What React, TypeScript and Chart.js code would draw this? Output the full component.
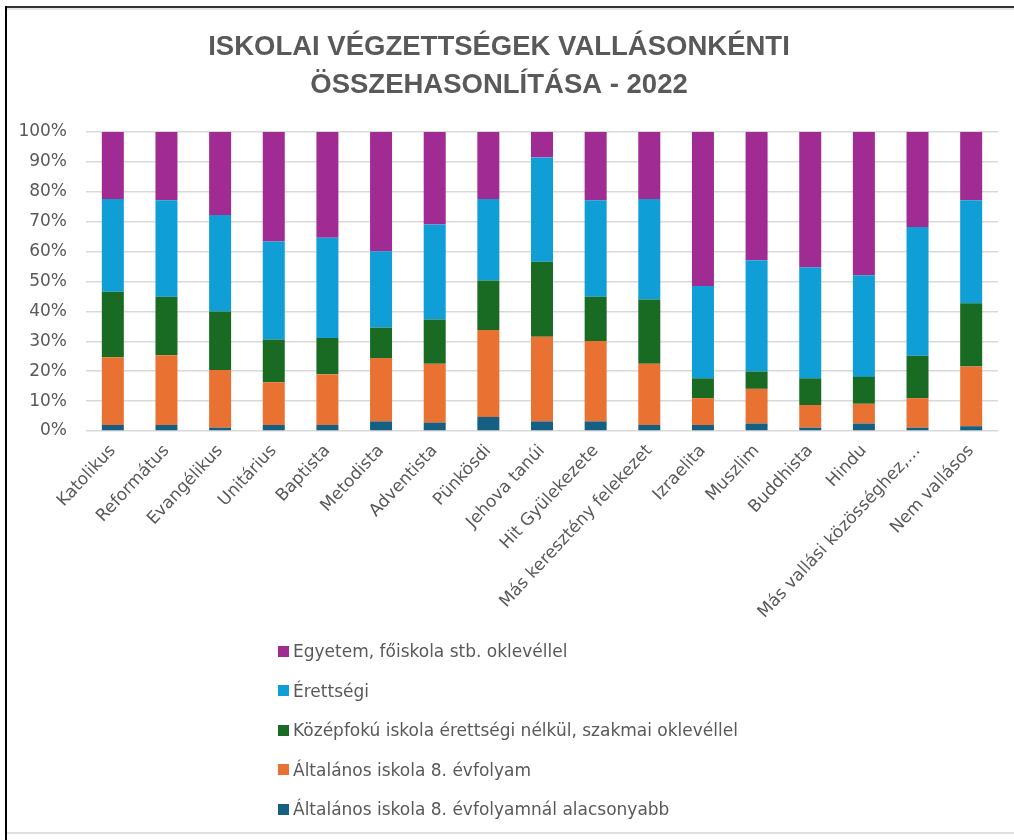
import React, { useEffect, useRef } from "react";
import { Chart, registerables } from "chart.js";

Chart.register(...registerables);

const categories = [
  "Katolikus",
  "Református",
  "Evangélikus",
  "Unitárius",
  "Baptista",
  "Metodista",
  "Adventista",
  "Pünkösdi",
  "Jehova tanúi",
  "Hit Gyülekezete",
  "Más keresztény felekezet",
  "Izraelita",
  "Muszlim",
  "Buddhista",
  "Hindu",
  "Más vallási közösséghez,…",
  "Nem vallásos",
];

const alacsonyabb = [2.0, 2.0, 1.1, 2.0, 2.0, 3.2, 2.8, 4.7, 3.2, 3.2, 2.0, 2.0, 2.5, 1.1, 2.5, 1.1, 1.6];
const altalanos8 = [22.7, 23.3, 19.3, 14.3, 17.0, 21.2, 19.7, 29.1, 28.3, 26.9, 20.5, 9.0, 11.6, 7.6, 6.6, 9.9, 20.0];
const kozepfoku = [21.9, 19.6, 19.6, 14.3, 12.1, 10.2, 14.8, 16.5, 25.1, 14.8, 21.5, 6.6, 5.8, 8.9, 9.0, 14.2, 21.1];
const erettsegi = [31.0, 32.3, 32.2, 32.8, 33.5, 25.5, 31.8, 27.3, 34.9, 32.3, 33.6, 30.9, 37.2, 37.2, 34.0, 43.0, 34.5];
const egyetem = [22.4, 22.8, 27.8, 36.6, 35.4, 39.9, 30.9, 22.4, 8.5, 22.8, 22.4, 51.5, 42.9, 45.2, 47.9, 31.8, 22.8];

const seriesNames = [
  "Általános iskola 8. évfolyamnál alacsonyabb",
  "Általános iskola 8. évfolyam",
  "Középfokú iskola érettségi nélkül, szakmai oklevéllel",
  "Érettségi",
  "Egyetem, főiskola stb. oklevéllel",
];
const seriesColors = ["#156082", "#E97132", "#196B24", "#0F9ED5", "#A02B93"];
const seriesValues = [alacsonyabb, altalanos8, kozepfoku, erettsegi, egyetem];

const titleLines = ["ISKOLAI VÉGZETTSÉGEK VALLÁSONKÉNTI", "ÖSSZEHASONLÍTÁSA - 2022"];
const yTicks = [0, 10, 20, 30, 40, 50, 60, 70, 80, 90, 100];

const TEXT = "#595959";
const FONT = "'DejaVu Sans', sans-serif";

export default function App() {
  const ref = useRef<HTMLCanvasElement | null>(null);

  useEffect(() => {
    if (!ref.current) return;
    const chart = new Chart(ref.current, {
      type: "bar",
      data: {
        labels: categories,
        datasets: seriesValues.map((vals, i) => ({
          label: seriesNames[i],
          data: vals,
          backgroundColor: seriesColors[i],
          borderWidth: 0,
          barPercentage: 0.41,
          categoryPercentage: 1,
        })),
      },
      options: {
        animation: false,
        responsive: false,
        devicePixelRatio: 1,
        layout: { padding: { left: 0, right: 16, top: 0, bottom: 0 } },
        plugins: {
          legend: { display: false },
          tooltip: { enabled: false },
          title: {
            display: true,
            text: titleLines,
            color: TEXT,
            font: { family: "'Liberation Sans', Arial, sans-serif", size: 27.5, weight: "bold", lineHeight: 38 / 27.5 },
            padding: { top: 28, bottom: 28 },
          },
        },
        scales: {
          x: {
            stacked: true,
            grid: { display: false },
            border: { display: false },
            ticks: {
              color: TEXT,
              font: { family: FONT, size: 17 },
              minRotation: 47,
              maxRotation: 47,
              autoSkip: false,
              padding: 2,
            },
            afterFit: (scale: any) => {
              scale.height = 409;
            },
          },
          y: {
            stacked: true,
            min: 0,
            max: 100,
            afterBuildTicks: (scale: any) => {
              scale.ticks = yTicks.map((v) => ({ value: v }));
            },
            grid: { color: "#d9d9d9", lineWidth: 1.5, drawTicks: false },
            border: { display: false },
            ticks: {
              color: TEXT,
              font: { family: FONT, size: 17 },
              padding: 19,
              callback: (v: any) => v + "%",
            },
            afterFit: (scale: any) => {
              scale.width = 86;
            },
          },
        },
      },
    });
    return () => chart.destroy();
  }, []);

  const legendOrder = [4, 3, 2, 1, 0];
  const legendY = [651, 690.5, 730, 769.5, 809];

  return (
    <div style={{ position: "absolute", left: 0, top: 0, width: 1014, height: 840, background: "#fff", overflow: "hidden" }}>
      <canvas ref={ref} width={1014} height={840} style={{ position: "absolute", left: 0, top: 0, width: 1014, height: 840 }} />
      <div style={{ position: "absolute", left: 6, top: 6, width: 1008, height: 2, background: "#333" }} />
      <div style={{ position: "absolute", left: 7, top: 8, width: 1007, height: 2, background: "#e6e6e6" }} />
      <div style={{ position: "absolute", left: 5, top: 6, width: 2, height: 834, background: "#000" }} />
      <div style={{ position: "absolute", left: 7, top: 832, width: 1007, height: 2, background: "#e0e0e0" }} />
      {legendOrder.map((si, k) => (
        <div
          key={si}
          style={{
            position: "absolute",
            left: 278,
            top: legendY[k] - 12,
            height: 24,
            display: "flex",
            alignItems: "center",
            fontFamily: FONT,
            fontSize: 17,
            color: TEXT,
            whiteSpace: "nowrap",
          }}
        >
          <span style={{ display: "inline-block", width: 11, height: 11, background: seriesColors[si], marginRight: 4 }} />
          <span>{seriesNames[si]}</span>
        </div>
      ))}
    </div>
  );
}
